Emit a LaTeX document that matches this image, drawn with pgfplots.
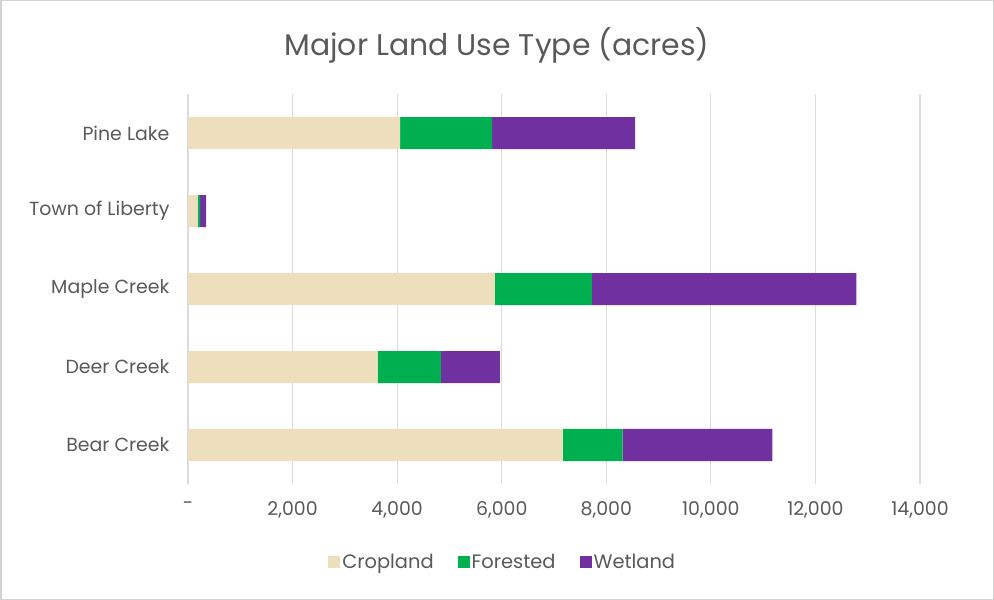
\documentclass[border=0pt]{standalone}
\usepackage{pgfplots}
\pgfplotsset{compat=1.18}
\usepackage{fontspec}
\setmainfont{Poppins}
\definecolor{txt}{HTML}{595959}
\definecolor{crop}{HTML}{EEDFBC}
\definecolor{forest}{HTML}{00B050}
\definecolor{wet}{HTML}{7030A0}
\begin{document}
\begin{tikzpicture}
\draw[draw=gray!35, line width=1.5bp] (0.75bp,0.75bp) rectangle (993.25bp,599.25bp);
\node[text=txt, font=\fontsize{30}{34}\selectfont] at (497bp,555bp) {Major Land Use Type (acres)};
\begin{axis}[
    at={(188bp,116bp)}, anchor=south west,
    scale only axis, width=732bp, height=390bp,
    xbar stacked, bar width=32bp,
    xmin=0, xmax=14000, ymin=-0.5, ymax=4.5,
    ytick={0,1,2,3,4},
    yticklabels={Bear Creek,Deer Creek,Maple Creek,Town of Liberty,Pine Lake},
    xtick={0,2000,4000,6000,8000,10000,12000,14000},
    xticklabels={-,{2,000},{4,000},{6,000},{8,000},{10,000},{12,000},{14,000}},
    scaled x ticks=false,
    axis line style={draw=none},
    major tick length=0pt,
    xmajorgrids, grid style={draw=gray!28, line width=1.2bp},
    tick label style={text=txt, font=\fontsize{19}{22}\selectfont},
    yticklabel style={xshift=-15bp},
    xticklabel style={yshift=-14bp},
    legend style={at={(0.43,-0.2)}, anchor=center, draw=none, legend columns=3,
        font=\fontsize{19.5}{22}\selectfont, text=txt,
        /tikz/every even column/.append style={column sep=22bp}},
    legend image code/.code={\fill[#1] (0bp,-6bp) rectangle (12bp,6bp);},
]
\addplot[fill=crop, draw=none] coordinates {(7168,0) (3626,1) (5870,2) (187,3) (4055,4)};
\addplot[fill=forest, draw=none] coordinates {(1142,0) (1212,1) (1852,2) (46,3) (1762,4)};
\addplot[fill=wet, draw=none] coordinates {(2865,0) (1126,1) (5060,2) (114,3) (2736,4)};
\legend{Cropland,Forested,Wetland}
\end{axis}
\end{tikzpicture}
\end{document}
